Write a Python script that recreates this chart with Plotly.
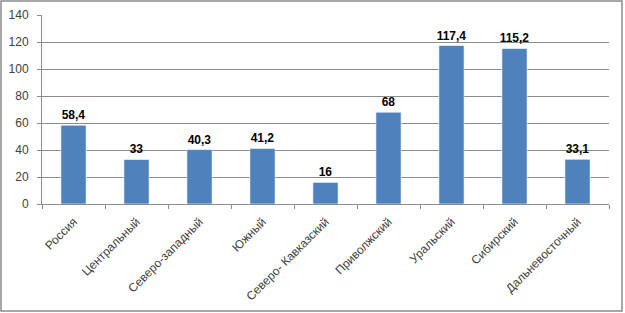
import plotly.graph_objects as go

categories = ["Россия", "Центральный", "Северо-западный", "Южный", "Северо- Кавказский",
              "Приволжский", "Уральский", "Сибирский", "Дальневосточный"]
values = [58.4, 33, 40.3, 41.2, 16, 68, 117.4, 115.2, 33.1]
labels = [str(v).replace(".", ",") if v != int(v) else str(int(v)) for v in values]
y_ticks = [0, 20, 40, 60, 80, 100, 120, 140]

fig = go.Figure(go.Bar(
    x=categories, y=values, text=labels, textposition="outside",
    textfont=dict(family="Liberation Sans", size=12, color="#000000", weight="bold"),
    marker=dict(color="#4F81BD", line=dict(color="#ffffff", width=0.6)),
    cliponaxis=False, constraintext="none",
))

fig.update_layout(
    width=625, height=313,
    margin=dict(l=42, r=16, t=15, b=109, autoexpand=False),
    paper_bgcolor="white", plot_bgcolor="white",
    bargap=0.6, showlegend=False,
    font=dict(family="Liberation Sans", size=11, color="#404040"),
    shapes=[dict(type="rect", xref="paper", yref="paper", x0=-0.0723, x1=1.0229, y0=-0.566, y1=1.074,
                 line=dict(color="#8c8c8c", width=1.5))],
)
fig.update_yaxes(range=[0, 140], tickvals=y_ticks, showgrid=True, gridcolor="#8c8c8c", gridwidth=1,
                 showline=True, linecolor="#8c8c8c", ticks="outside", ticklen=4, tickcolor="#8c8c8c",
                 zeroline=False, automargin=False, ticklabelstandoff=6,
                 tickfont=dict(size=12, color="#404040"))
fig.update_xaxes(showline=True, linecolor="#8c8c8c", ticks="outside", tickson="boundaries", ticklen=4,
                 tickcolor="#8c8c8c", tickangle=-45, automargin=False, ticklabelstandoff=5,
                 tickfont=dict(size=12, color="#404040"))

fig.write_html("out.html", config={"displayModeBar": False},
               post_script="document.body.style.margin='0';document.body.style.overflow='hidden';")
